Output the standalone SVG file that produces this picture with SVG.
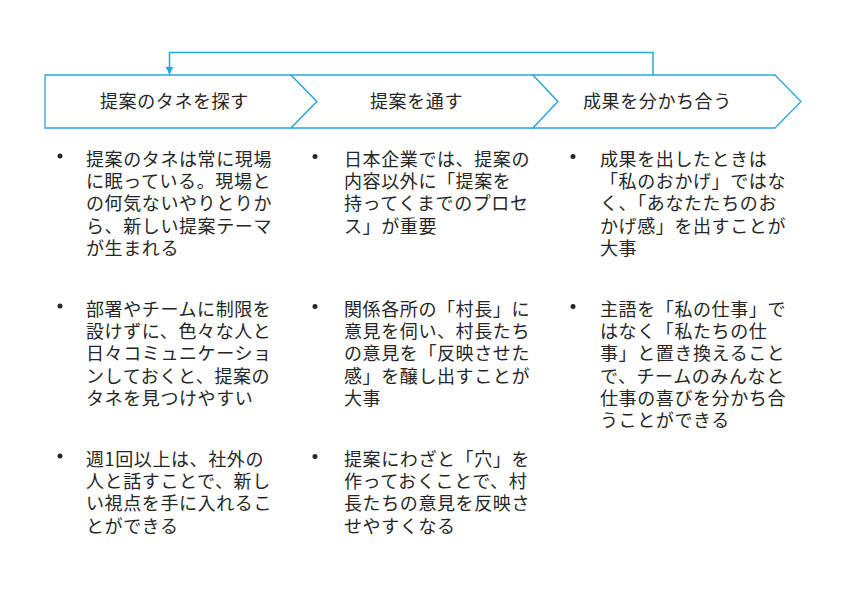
<svg xmlns="http://www.w3.org/2000/svg" width="846" height="604" viewBox="0 0 846 604">
<style>
.shape{fill:#ffffff;stroke:#2aa6de;stroke-width:1.3;stroke-linejoin:miter}
.hd{font-family:"Noto Sans CJK JP","Noto Sans",sans-serif;font-size:18px;letter-spacing:0.6px;fill:#262626}
.tx{font-family:"Noto Sans CJK JP","Noto Sans",sans-serif;font-size:18px;letter-spacing:0.6px;fill:#262626}
.conn{fill:none;stroke:#2aa6de;stroke-width:1.5}
</style>
<defs>
<marker id="ah" markerWidth="9" markerHeight="8" refX="8" refY="4" orient="auto" markerUnits="userSpaceOnUse" viewBox="0 0 9 8">
<path d="M0,0 L8,4 L0,8 Z" fill="#2aa6de"/>
</marker>
</defs>
<rect width="846" height="604" fill="#ffffff"/>
<g id="step1">
<path class="shape" d="M45,75 H291 L317,101.5 L291,128 H45 Z"/>
<text class="hd" x="100" y="108">提案のタネを探す</text>
</g>
<g id="step2">
<path class="shape" d="M291,75 H533 L558,101.5 L533,128 H291 L317,101.5 Z"/>
<text class="hd" x="370" y="108">提案を通す</text>
</g>
<g id="step3">
<path class="shape" d="M533,75 H775 L801,101.5 L775,128 H533 L558,101.5 Z"/>
<text class="hd" x="583" y="108">成果を分かち合う</text>
</g>
<g id="connectors">
<path class="conn" d="M653,75 V52.5 H169.5 V74.5" marker-end="url(#ah)"/>
</g>
<g id="col1">
<circle cx="60" cy="156" r="2.5" fill="#262626"/>
<text class="tx" x="86" y="166"><tspan x="86">提案のタネは常に現場</tspan><tspan x="86" dy="22.2">に眠っている。現場と</tspan><tspan x="86" dy="22.2">の何気ないやりとりか</tspan><tspan x="86" dy="22.2">ら、新しい提案テーマ</tspan><tspan x="86" dy="22.2">が生まれる</tspan></text>
<circle cx="60" cy="306" r="2.5" fill="#262626"/>
<text class="tx" x="86" y="316"><tspan x="86">部署やチームに制限を</tspan><tspan x="86" dy="22.2">設けずに、色々な人と</tspan><tspan x="86" dy="22.2">日々コミュニケーショ</tspan><tspan x="86" dy="22.2">ンしておくと、提案の</tspan><tspan x="86" dy="22.2">タネを見つけやすい</tspan></text>
<circle cx="60" cy="456" r="2.5" fill="#262626"/>
<text class="tx" x="86" y="466"><tspan x="86">週1回以上は、社外の</tspan><tspan x="86" dy="22.2">人と話すことで、新し</tspan><tspan x="86" dy="22.2">い視点を手に入れるこ</tspan><tspan x="86" dy="22.2">とができる</tspan></text>
</g>
<g id="col2">
<circle cx="315" cy="156.5" r="2.5" fill="#262626"/>
<text class="tx" x="344" y="166"><tspan x="344">日本企業では、提案の</tspan><tspan x="344" dy="22.2">内容以外に「提案を</tspan><tspan x="344" dy="22.2">持ってくまでのプロセ</tspan><tspan x="344" dy="22.2">ス」が重要</tspan></text>
<circle cx="315" cy="306.5" r="2.5" fill="#262626"/>
<text class="tx" x="344" y="316"><tspan x="344">関係各所の「村長」に</tspan><tspan x="344" dy="22.2">意見を伺い、村長たち</tspan><tspan x="344" dy="22.2">の意見を「反映させた</tspan><tspan x="344" dy="22.2">感」を醸し出すことが</tspan><tspan x="344" dy="22.2">大事</tspan></text>
<circle cx="315" cy="456.5" r="2.5" fill="#262626"/>
<text class="tx" x="344" y="466"><tspan x="344">提案にわざと「穴」を</tspan><tspan x="344" dy="22.2">作っておくことで、村</tspan><tspan x="344" dy="22.2">長たちの意見を反映さ</tspan><tspan x="344" dy="22.2">せやすくなる</tspan></text>
</g>
<g id="col3">
<circle cx="573" cy="156.5" r="2.5" fill="#262626"/>
<text class="tx" x="600" y="166"><tspan x="600">成果を出したときは</tspan><tspan x="600" dy="22.2">「私のおかげ」ではな</tspan><tspan x="600" dy="22.2">く、「あなたたちのお</tspan><tspan x="600" dy="22.2">かげ感」を出すことが</tspan><tspan x="600" dy="22.2">大事</tspan></text>
<circle cx="573" cy="306.5" r="2.5" fill="#262626"/>
<text class="tx" x="600" y="316"><tspan x="600">主語を「私の仕事」で</tspan><tspan x="600" dy="22.2">はなく「私たちの仕</tspan><tspan x="600" dy="22.2">事」と置き換えること</tspan><tspan x="600" dy="22.2">で、チームのみんなと</tspan><tspan x="600" dy="22.2">仕事の喜びを分かち合</tspan><tspan x="600" dy="22.2">うことができる</tspan></text>
</g>
</svg>
